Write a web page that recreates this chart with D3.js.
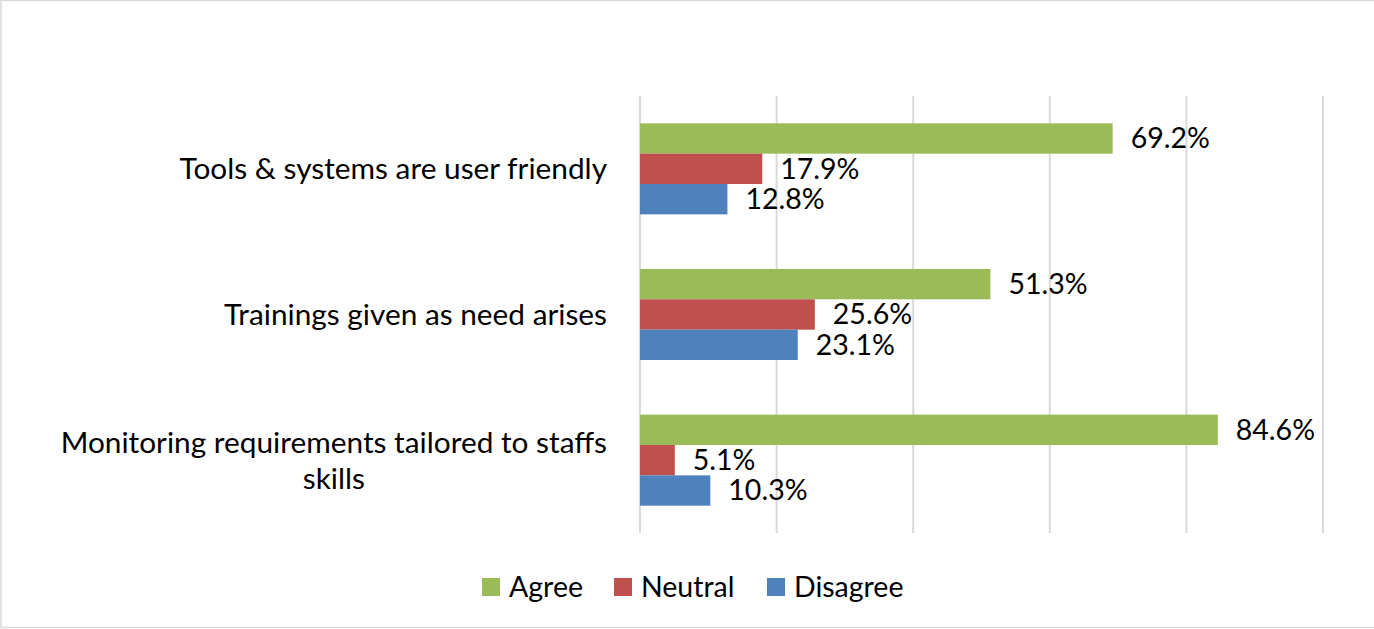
<!DOCTYPE html>
<html>
<head>
<meta charset="utf-8">
<script src="https://cdn.jsdelivr.net/npm/d3@7"></script>
<style>
  body { margin: 0; background: #fff; }
  text { font-family: Lato, "Open Sans", sans-serif; fill: #000; }
</style>
</head>
<body>
<svg id="chart"></svg>
<script>
// Chart values
const categories = [
  "Tools & systems are user friendly",
  "Trainings given as need arises",
  "Monitoring requirements tailored to staffs skills"
];
const series = ["Agree", "Neutral", "Disagree"];
const agree = [69.2, 51.3, 84.6];
const neutral = [17.9, 25.6, 5.1];
const disagree = [12.8, 23.1, 10.3];
const xTicks = [0, 20, 40, 60, 80, 100];

const colors = { Agree: "#9BBB59", Neutral: "#C0504D", Disagree: "#4F81BD" };

let width = 1374, height = 629;
const margin = { top: 96, right: 51, bottom: 96, left: 640 };

const svg = d3.select("#chart")
  .attr("width", width)
  .attr("height", height);

// outer chart border
svg.append("rect")
  .attr("x", 1).attr("y", 0.5)
  .attr("width", width + 10).attr("height", height - 2)
  .attr("fill", "none")
  .attr("stroke", "#d9d9d9")
  .attr("stroke-width", 1.5);

const x = d3.scaleLinear()
  .domain([0, 100])
  .range([margin.left, width - margin.right]);

const y = d3.scaleBand()
  .domain(categories)
  .range([margin.top, height - margin.bottom]);

// gap width ~180% of a bar
const gapRatio = 1.8 / (series.length + 1.8);
const ySub = d3.scaleBand()
  .domain(series)
  .range([y.bandwidth() * gapRatio / 2, y.bandwidth() * (1 - gapRatio / 2)]);

// vertical gridlines
svg.append("g")
  .selectAll("line")
  .data(xTicks)
  .enter()
  .append("line")
  .attr("x1", d => x(d)).attr("x2", d => x(d))
  .attr("y1", margin.top).attr("y2", height - margin.bottom)
  .attr("stroke", "#d9d9d9")
  .attr("stroke-width", 2);

const rows = categories.map((c, i) => ({
  category: c,
  values: [
    { key: "Agree", value: agree[i] },
    { key: "Neutral", value: neutral[i] },
    { key: "Disagree", value: disagree[i] }
  ]
}));

const groups = svg.append("g")
  .selectAll("g")
  .data(rows)
  .enter()
  .append("g")
  .attr("transform", d => `translate(0,${y(d.category)})`);

groups.selectAll("rect")
  .data(d => d.values)
  .enter()
  .append("rect")
  .attr("x", x(0))
  .attr("y", d => ySub(d.key))
  .attr("width", d => x(d.value) - x(0))
  .attr("height", ySub.bandwidth())
  .attr("fill", d => colors[d.key]);

groups.selectAll("text.val")
  .data(d => d.values)
  .enter()
  .append("text")
  .attr("class", "val")
  .attr("x", d => x(d.value) + 18)
  .attr("y", d => ySub(d.key) + ySub.bandwidth() / 2)
  .attr("dy", "0.35em")
  .style("font-size", "28.5px")
  .text(d => d.value.toFixed(1) + "%");

// category labels, wrapped to fit left of the axis
const labelRight = x(0) - 33;
const maxLabelWidth = 560;

groups.each(function (d) {
  const g = d3.select(this);
  const t = g.append("text")
    .style("font-size", "29.8px")
    .attr("text-anchor", "middle");
  const words = d.category.split(" ");
  let lines = [], line = [];
  words.forEach(w => {
    line.push(w);
    t.text(line.join(" "));
    if (t.node().getComputedTextLength() > maxLabelWidth && line.length > 1) {
      line.pop();
      lines.push(line.join(" "));
      line = [w];
    }
  });
  lines.push(line.join(" "));
  t.text(null);
  // widest line decides the block, lines centered in it
  const widths = lines.map(l => { t.text(l); return t.node().getComputedTextLength(); });
  t.text(null);
  const blockW = d3.max(widths);
  const cx = labelRight - blockW / 2;
  const lh = 36;
  lines.forEach((l, i) => {
    t.append("tspan")
      .attr("x", cx)
      .attr("y", y.bandwidth() / 2 + (i - (lines.length - 1) / 2) * lh)
      .attr("dy", "0.35em")
      .text(l);
  });
});

// legend
const legendX = [482, 614, 767];
const legend = svg.append("g")
  .selectAll("g")
  .data(series)
  .enter()
  .append("g")
  .attr("transform", (d, i) => `translate(${legendX[i]},578)`);

legend.append("rect")
  .attr("width", 18).attr("height", 18)
  .attr("fill", d => colors[d]);

legend.append("text")
  .attr("x", 27).attr("y", 9)
  .attr("dy", "0.35em")
  .style("font-size", "28.5px")
  .text(d => d);
</script>
</body>
</html>
